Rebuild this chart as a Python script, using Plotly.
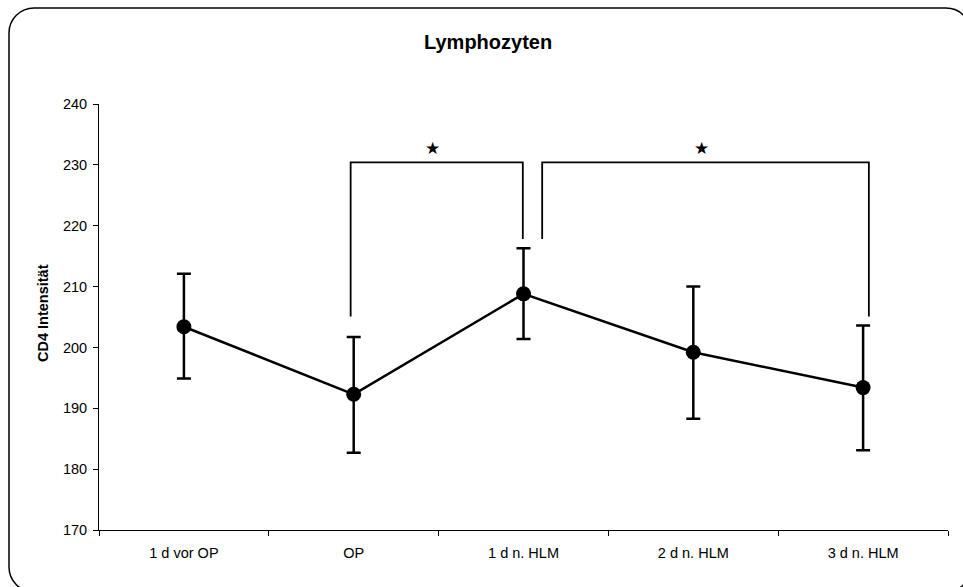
import plotly.graph_objects as go

categories = ["1 d vor OP", "OP", "1 d n. HLM", "2 d n. HLM", "3 d n. HLM"]
means = [203.4, 192.3, 208.8, 199.2, 193.4]
upper = [212.1, 201.7, 216.3, 210.0, 203.6]
lower = [194.9, 182.7, 201.4, 188.3, 183.1]
y_ticks = [170, 180, 190, 200, 210, 220, 230, 240]

# significance brackets: (x_left, x_right, y_left_end, y_top, y_right_end)
brackets = [
    (0.982, 1.996, 205.1, 230.4, 217.8),
    (2.11, 4.034, 217.8, 230.4, 205.1),
]
stars = [(1.463, 232.7), (3.047, 232.7)]

err_plus = [u - m for u, m in zip(upper, means)]
err_minus = [m - l for m, l in zip(means, lower)]

FONT = "Liberation Sans, Arial, sans-serif"
TICK_SIZE = 14.5

fig = go.Figure()
fig.add_trace(go.Scatter(
    x=categories, y=means, mode="lines+markers",
    line=dict(color="black", width=2.5),
    marker=dict(color="black", size=15),
    error_y=dict(type="data", symmetric=False, array=err_plus, arrayminus=err_minus,
                 color="black", thickness=2.5, width=7),
    showlegend=False, hoverinfo="skip",
))

shapes = []
for x0, x1, yl, yt, yr in brackets:
    shapes.append(dict(
        type="path", xref="x", yref="y",
        path=f"M {x0},{yl} L {x0},{yt} L {x1},{yt} L {x1},{yr}",
        line=dict(color="black", width=1.8),
    ))

# rounded outer frame in paper coordinates (plot area 99..948 x, 104..530 y)
W, H = 849.0, 426.0
def px(x):
    return (x - 99) / W
def py(y):
    return (530 - y) / H
L, R, T, B = px(9), px(971), py(8), py(592)
rx, ry = 25 / W, 25 / H
k = 0.5523
path = (
    f"M {L+rx},{T} L {R-rx},{T} "
    f"C {R-rx+k*rx},{T} {R},{T-ry+k*ry} {R},{T-ry} "
    f"L {R},{B+ry} "
    f"C {R},{B+ry-k*ry} {R-rx+k*rx},{B} {R-rx},{B} "
    f"L {L+rx},{B} "
    f"C {L+rx-k*rx},{B} {L},{B+ry-k*ry} {L},{B+ry} "
    f"L {L},{T-ry} "
    f"C {L},{T-ry+k*ry} {L+rx-k*rx},{T} {L+rx},{T} Z"
)
shapes.append(dict(type="path", xref="paper", yref="paper", path=path,
                   line=dict(color="black", width=1.5), layer="below"))

annotations = []
for sx, sy in stars:
    annotations.append(dict(x=sx, y=sy, xref="x", yref="y", text="★", showarrow=False,
                            xanchor="center", yanchor="middle",
                            font=dict(family="DejaVu Sans", size=17, color="black")))
annotations.append(dict(x=px(43), y=py(313), xref="paper", yref="paper",
                        xanchor="center", yanchor="middle",
                        text="<b>CD4 Intensität</b>", textangle=-90, showarrow=False,
                        font=dict(family=FONT, size=14.5, color="black")))
annotations.append(dict(x=px(488), y=py(42), xref="paper", yref="paper",
                        xanchor="center", yanchor="middle",
                        text="<b>Lymphozyten</b>", showarrow=False,
                        font=dict(family=FONT, size=20, color="black")))

fig.update_layout(
    width=963, height=587,
    margin=dict(l=99, r=15, t=104, b=57),
    paper_bgcolor="white", plot_bgcolor="white",
    font=dict(family=FONT, size=TICK_SIZE, color="black"),
    shapes=shapes, annotations=annotations,
    xaxis=dict(type="category", range=[-0.5, 4.5], showline=True, linecolor="black",
               linewidth=1, ticks="outside", tickson="boundaries", ticklen=5,
               tickcolor="black", showgrid=False, zeroline=False, ticklabelstandoff=10,
               tickfont=dict(family=FONT, size=TICK_SIZE, color="black")),
    yaxis=dict(range=[170, 240], tickvals=y_ticks, showline=True, linecolor="black",
               linewidth=1, ticks="outside", ticklen=5, tickcolor="black",
               showgrid=False, zeroline=False, ticklabelstandoff=3,
               tickfont=dict(family=FONT, size=TICK_SIZE, color="black")),
)

fig.write_html("out.html")
